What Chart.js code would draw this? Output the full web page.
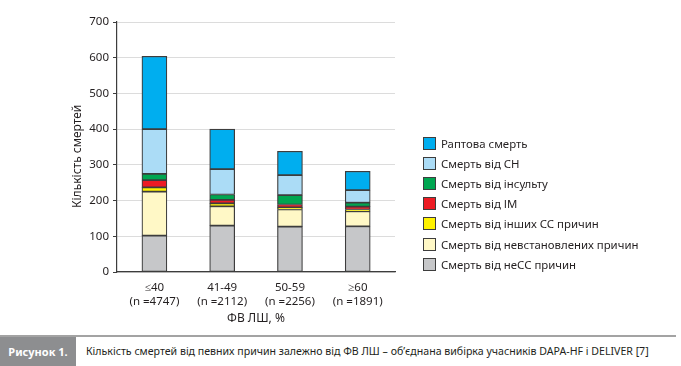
<!DOCTYPE html>
<html>
<head>
<meta charset="utf-8">
<script src="https://cdn.jsdelivr.net/npm/chart.js@4/dist/chart.umd.min.js"></script>
<style>
  body { margin: 0; width: 681px; height: 366px; background: #fff; position: relative; overflow: hidden; font-family: "Noto Sans", sans-serif; color: #231f20; }
  #wrap { position: absolute; left: 0; top: 0; width: 681px; height: 330px; }
  #legend { position: absolute; left: 423px; top: 133px; font-size: 11.4px; }
  #legend div { height: 20.2px; display: flex; align-items: center; white-space: nowrap; }
  #legend span.box { display: inline-block; width: 13px; height: 13px; border: 1px solid #3d3d3d; margin-right: 5px; box-sizing: border-box; }
  #capline { position: absolute; left: 0; top: 335px; width: 676px; height: 2px; background: #a3a3a3; }
  #capbox { position: absolute; left: 0; top: 337px; width: 76px; height: 29px; background: #8d8e90; color: #fff; font-weight: bold; font-size: 11px; line-height: 29px; text-align: center; }
  #captext { position: absolute; left: 86px; top: 337px; height: 29px; line-height: 29px; font-size: 10.6px; white-space: nowrap; }
</style>
</head>
<body>
<div id="wrap"><canvas id="myChart" width="681" height="330"></canvas></div>
<div id="legend"></div>
<div id="capline"></div>
<div id="capbox">Рисунок 1.</div>
<div id="captext">Кількість смертей від певних причин залежно від ФВ ЛШ – об’єднана вибірка учасників DAPA-HF і DELIVER [7]</div>
<script>
/* категорії (ФВ ЛШ) і кількість пацієнтів */
const groups = ['≤40', '41-49', '50-59', '≥60'];
const groupN = ['(n =4747)', '(n =2112)', '(n =2256)', '(n =1891)'];

/* причини смерті, знизу вгору */
const causes = [
      'Смерть від неСС причин',
      'Смерть від невстановлених причин',
      'Смерть від інших СС причин',
      'Смерть від ІМ',
      'Смерть від інсульту',
      'Смерть від СН',
      'Раптова смерть'
];
const causeColors = ['#c6c7c9', '#fff8c6', '#fff200', '#ed1c24', '#00a651', '#abdcf6', '#00aeef'];

/* значення для кожної причини по групах */
const nonCV        = [102, 130, 127, 128];
const undetermined = [123, 54, 48, 42];
const otherCV      = [12, 8, 6, 5];
const mi           = [20, 10, 8, 8];
const stroke       = [18, 15, 26, 11];
const hf           = [125, 71, 56, 35];
const sudden       = [204, 112, 67, 53];

const values = [nonCV, undetermined, otherCV, mi, stroke, hf, sudden];

const yTicks = { min: 0, max: 700, step: 100 };

const canvaNode = document.getElementById('myChart');

const chart = new Chart(canvaNode, {
      type: 'bar',
      data: {
            datasets: causes.map((name, i) => ({
                  label: name,
                  data: values[i].map((v, k) => ({ x: k, y: v })), // x - номер групи
                  backgroundColor: causeColors[i],
                  borderColor: '#3d3d3d',
                  borderWidth: 1.2,
                  borderSkipped: false,
                  barThickness: 25
            }))
      },
      options: {
            responsive: false,
            animation: false,
            layout: { padding: { left: 66, right: 286, top: 22, bottom: 0 } },
            plugins: {
                  legend: { display: false },
                  tooltip: { enabled: false }
            },
            scales: {
                  x: {
                        type: 'linear',
                        stacked: true,
                        offset: false,
                        min: -0.552,
                        max: 3.55,
                        grid: { display: false, offset: false },
                        border: { display: true, color: '#3d3d3d', width: 1.2 },
                        afterBuildTicks: (scale) => { scale.ticks = groups.map((g, i) => ({ value: i })); },
                        ticks: {
                              color: '#231f20', padding: 1, autoSkip: false, maxRotation: 0,
                              font: { family: 'Noto Sans', size: 11.5 },
                              callback: (value) => [groups[value], groupN[value]]
                        },
                        title: { display: true, text: 'ФВ ЛШ, %', color: '#231f20', font: { family: 'Noto Sans', size: 12 } },
                        afterFit: (scale) => { scale.height = 58; }
                  },
                  y: {
                        stacked: true,
                        min: yTicks.min,
                        max: yTicks.max,
                        grid: { color: '#dcdcdc', lineWidth: 1, tickColor: '#3d3d3d', tickLength: 4 },
                        border: { display: true, color: '#3d3d3d', width: 1.2 },
                        ticks: { stepSize: yTicks.step, color: '#231f20', padding: 4, font: { family: 'Noto Sans', size: 11.5 } },
                        title: { display: true, text: 'Кількість смертей\u00a0\u00a0\u00a0\u00a0\u00a0\u00a0', color: '#231f20', font: { family: 'Noto Sans', size: 12 } },
                        afterFit: (scale) => { scale.width = 51; }
                  }
            }
      }
});

/* легенда: зверху вниз, як у оригіналі */
const legendNode = document.getElementById('legend');
for (let i = causes.length - 1; i >= 0; i--) {
      const row = document.createElement('div');
      const box = document.createElement('span');
      box.className = 'box';
      box.style.background = causeColors[i];
      row.appendChild(box);
      row.appendChild(document.createTextNode(causes[i]));
      legendNode.appendChild(row);
}
</script>
</body>
</html>
